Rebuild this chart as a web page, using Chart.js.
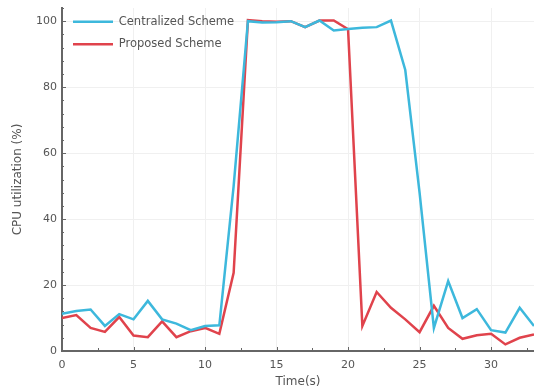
<!DOCTYPE html>
<html>
<head>
<meta charset="utf-8">
<script src="https://cdn.jsdelivr.net/npm/chart.js@4.4.1/dist/chart.umd.min.js"></script>
<style>
  html, body { margin: 0; padding: 0; background: #fff; }
  #wrap { width: 534px; height: 389px; position: relative; }
</style>
</head>
<body>
<div id="wrap"><canvas id="cpu"></canvas></div>
<script>
// time axis (s)
const time = [0,1,2,3,4,5,6,7,8,9,10,11,12,13,14,15,16,17,18,19,20,21,22,23,24,25,26,27,28,29,30,31,32,33];
// CPU utilization (%)
const centralized = [11.3,12.1,12.6,7.6,11.2,9.6,15.2,9.6,8.3,6.3,7.6,7.8,50,100,99.6,99.7,100,98.2,100.2,97.2,97.6,98,98.2,100.2,85.2,48,7,21.2,10,12.7,6.3,5.6,13.1,7.6];
const proposed    = [10,10.9,7,5.8,10.3,4.7,4.2,9,4.2,6,7,5.2,23.7,100.3,100,99.8,100,98.2,100.2,100.2,97.6,7.6,17.9,13.1,9.6,5.7,13.7,7,3.7,4.8,5.2,2,4,5];
const xTicks = [0,5,10,15,20,25,30];
const yTicks = [0,20,40,60,80,100];

const FONT = 'DejaVu Sans';
const TXT = '#555';

function points(ys) {
  return time.map((t, i) => ({x: t, y: ys[i]}));
}

// small tick marks drawn on the inside of the axes
const innerTicks = {
  id: 'innerTicks',
  afterLayout(chart) {
    // push the in-plot legend down a little
    if (chart.legend) chart.legend.top += 5;
  },
  afterDraw(chart) {
    const {ctx, chartArea: a, scales: {x, y}} = chart;
    ctx.save();
    ctx.strokeStyle = '#666';
    ctx.lineWidth = 1;
    ctx.beginPath();
    for (let v = 0; v <= x.max; v += 2.5) {
      const px = Math.round(x.getPixelForValue(v)) + 0.5;
      const len = v % 5 === 0 ? 4 : 3;
      ctx.moveTo(px, a.bottom);
      ctx.lineTo(px, a.bottom - len);
    }
    for (let v = 0; v <= y.max; v += 4) {
      const py = Math.round(y.getPixelForValue(v)) + 0.5;
      const len = v % 20 === 0 ? 4 : 2;
      ctx.moveTo(a.left, py);
      ctx.lineTo(a.left + len, py);
    }
    ctx.stroke();
    ctx.restore();
  }
};

const ctx = document.getElementById('cpu');

new Chart(ctx, {
  type: 'line',
  data: {
    datasets: [
      {
        label: 'Centralized Scheme',
        data: points(centralized),
        borderColor: '#3db8dc',
        backgroundColor: '#3db8dc',
        borderWidth: 2.5,
        pointRadius: 0,
        tension: 0
      },
      {
        label: 'Proposed Scheme',
        data: points(proposed),
        borderColor: '#e0434c',
        backgroundColor: '#e0434c',
        borderWidth: 2.5,
        pointRadius: 0,
        tension: 0
      }
    ]
  },
  options: {
    responsive: true,
    maintainAspectRatio: false,
    animation: false,
    layout: { padding: { top: 8, right: 0, left: 0, bottom: 0 } },
    scales: {
      x: {
        type: 'linear',
        min: 0,
        max: 33,
        afterFit(scale) { scale.height = 38; scale.paddingLeft = 0; scale.paddingRight = 0; },
        afterBuildTicks(scale) { scale.ticks = xTicks.map(v => ({value: v})); },
        ticks: { color: TXT, font: { family: FONT, size: 11 }, padding: 8 },
        grid: { color: '#f0f0f0', drawTicks: false },
        border: { color: '#666', width: 2 },
        title: {
          display: true, text: 'Time(s)', color: TXT,
          font: { family: FONT, size: 12 }, padding: { top: 0, bottom: 0 }
        }
      },
      y: {
        min: 0,
        max: 104,
        afterFit(scale) { scale.width = 62; scale.paddingTop = 0; scale.paddingBottom = 0; },
        afterBuildTicks(scale) { scale.ticks = yTicks.map(v => ({value: v})); },
        ticks: { color: TXT, font: { family: FONT, size: 11 }, padding: 5 },
        grid: { color: '#f0f0f0', drawTicks: false },
        border: { color: '#666', width: 2 },
        title: {
          display: true, text: 'CPU utilization (%)', color: TXT,
          font: { family: FONT, size: 12 }, padding: { top: 11, bottom: 0 }
        }
      }
    },
    plugins: {
      legend: {
        position: 'chartArea',
        align: 'start',
        labels: {
          usePointStyle: true,
          pointStyle: 'line',
          pointStyleWidth: 40,
          color: TXT,
          font: { family: FONT, size: 11.5 },
          padding: 11
        }
      },
      tooltip: { enabled: false }
    }
  },
  plugins: [innerTicks]
});
</script>
</body>
</html>
